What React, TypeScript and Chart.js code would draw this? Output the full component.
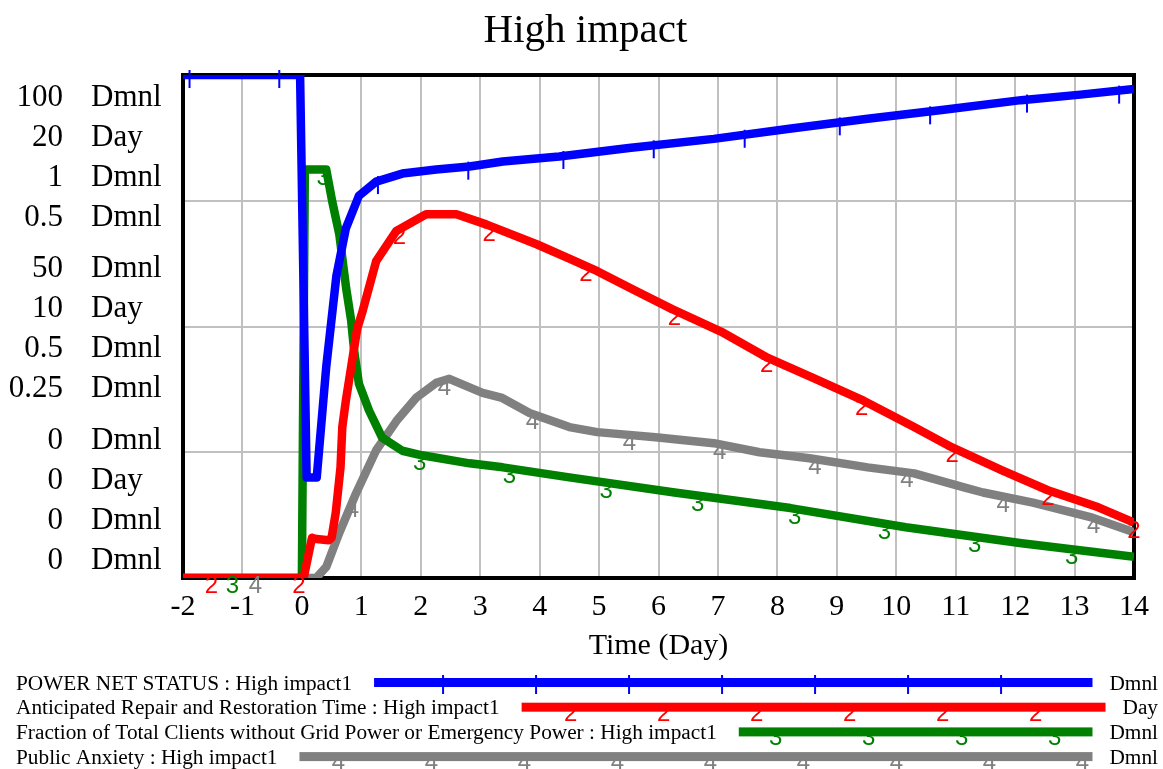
import React, { useEffect, useRef } from "react";
import { Chart, registerables } from "chart.js";
Chart.register(...registerables);

const TITLE = "High impact";
const X_TITLE = "Time (Day)";
const X_MIN = -2;
const X_MAX = 14;
const X_TICKS = ["-2", "-1", "0", "1", "2", "3", "4", "5", "6", "7", "8", "9", "10", "11", "12", "13", "14"];

const SERIES_NAMES = [
  "POWER NET STATUS : High impact1",
  "Anticipated Repair and Restoration Time : High impact1",
  "Fraction of Total Clients without Grid Power or Emergency Power : High impact1",
  "Public Anxiety : High impact1",
];
const UNITS = ["Dmnl", "Day", "Dmnl", "Dmnl"];
const COLORS = ["#0000ff", "#ff0000", "#008000", "#808080"];
const MARK_GLYPHS = ["|", "2", "3", "4"];
const Y_MAX = [100, 20, 1, 0.5];
const Y_LABEL_FRACTIONS = [1, 0.5, 0];
const Y_TICK_LABELS_POWER = ["100", "50", "0"];
const Y_TICK_LABELS_REPAIR = ["20", "10", "0"];
const Y_TICK_LABELS_FRACTION = ["1", "0.5", "0"];
const Y_TICK_LABELS_ANXIETY = ["0.5", "0.25", "0"];

const POWER_T = [-2, -0.03, 0.08, 0.25, 0.41, 0.58, 0.74, 0.96, 1.25, 1.69, 2.26, 2.82, 3.38, 4.33, 5.5, 6.93, 8.2, 9.52, 10.8, 12.1, 13.1, 14];
const POWER_V = [100, 100, 20, 20, 42, 60, 69.5, 76, 78.8, 80.4, 81.2, 81.8, 82.8, 83.8, 85.5, 87.3, 89.3, 91.3, 93.1, 95, 96.1, 97.2];

const REPAIR_T = [-2, 0.03, 0.17, 0.25, 0.45, 0.5, 0.57, 0.65, 0.68, 0.74, 0.83, 0.93, 1.02, 1.25, 1.59, 2.09, 2.6, 3.1, 3.95, 4.5, 4.97, 5.63, 6.22, 7.05, 7.84, 8.6, 9.45, 10.3, 10.94, 11.78, 12.55, 13.4, 14];
const REPAIR_V = [0, 0, 1.6, 1.55, 1.5, 1.6, 2.6, 4.4, 6.0, 7.05, 8.4, 9.9, 10.6, 12.6, 13.8, 14.46, 14.46, 14.06, 13.27, 12.7, 12.2, 11.4, 10.7, 9.8, 8.75, 7.96, 7.05, 6.0, 5.19, 4.28, 3.49, 2.81, 2.2];

const FRACTION_T = [-2, 0.0, 0.05, 0.41, 0.51, 0.63, 0.745, 0.83, 0.88, 0.96, 1.13, 1.35, 1.69, 2.02, 2.82, 3.38, 4.5, 6.27, 8.22, 10.16, 12.11, 14];
const FRACTION_V = [0, 0, 0.812, 0.812, 0.749, 0.683, 0.576, 0.511, 0.451, 0.386, 0.333, 0.279, 0.253, 0.244, 0.228, 0.22, 0.2, 0.17, 0.139, 0.101, 0.069, 0.042];

const ANXIETY_T = [-2, 0.24, 0.41, 0.63, 0.91, 1.25, 1.59, 1.92, 2.26, 2.48, 3.04, 3.37, 3.83, 4.5, 4.97, 5.95, 6.93, 7.7, 8.54, 9.52, 10.3, 11.14, 11.46, 12.3, 13.3, 14];
const ANXIETY_V = [0, 0, 0.011, 0.045, 0.084, 0.127, 0.156, 0.179, 0.194, 0.198, 0.184, 0.179, 0.164, 0.15, 0.145, 0.14, 0.134, 0.125, 0.119, 0.11, 0.104, 0.09, 0.085, 0.075, 0.06, 0.0455];

const POWER_MARKS = [-1.89, -0.38, 1.28, 2.8, 4.4, 5.92, 7.45, 9.05, 10.57, 12.2, 13.75];
const REPAIR_MARKS = [-1.52, -0.05, 1.64, 3.15, 4.78, 6.27, 7.82, 9.42, 10.94, 12.55, 14.0];
const FRACTION_MARKS = [-1.17, 0.36, 1.98, 3.49, 5.12, 6.66, 8.29, 9.8, 11.32, 12.95];
const ANXIETY_MARKS = [-0.78, 0.85, 2.4, 3.88, 5.51, 7.03, 8.63, 10.18, 11.8, 13.32];

const SERIF = "'Liberation Serif', 'Times New Roman', serif";
const SANS = "'Liberation Sans', Arial, sans-serif";

const toPts = (t: number[], v: number[]) => t.map((x, i) => ({ x, y: v[i] }));
const AXIS_IDS = ["yP", "yR", "yF", "yA"];
const MARKS = [POWER_MARKS, REPAIR_MARKS, FRACTION_MARKS, ANXIETY_MARKS];
const Y_LABELS = [Y_TICK_LABELS_POWER, Y_TICK_LABELS_REPAIR, Y_TICK_LABELS_FRACTION, Y_TICK_LABELS_ANXIETY];

function interp(pts: { x: number; y: number }[], t: number) {
  if (t <= pts[0].x) return pts[0].y;
  for (let i = 1; i < pts.length; i++) {
    if (t <= pts[i].x) {
      const a = pts[i - 1], b = pts[i];
      const f = (t - a.x) / (b.x - a.x || 1);
      return a.y + (b.y - a.y) * f;
    }
  }
  return pts[pts.length - 1].y;
}

const decor = {
  id: "decor",
  beforeDatasetsDraw(chart: any) {
    const { ctx, chartArea: a } = chart;
    ctx.save();
    ctx.strokeStyle = "#000";
    ctx.lineWidth = 4;
    ctx.strokeRect(a.left, a.top, a.right - a.left, a.bottom - a.top);
    ctx.restore();
  },
  afterDatasetsDraw(chart: any) {
    const { ctx } = chart;
    const xs = chart.scales.x;
    ctx.save();
    chart.data.datasets.forEach((ds: any, i: number) => {
      const ys = chart.scales[AXIS_IDS[i]];
      ctx.fillStyle = COLORS[i];
      ctx.strokeStyle = COLORS[i];
      MARKS[i].forEach((t) => {
        const px = xs.getPixelForValue(t);
        const py = ys.getPixelForValue(interp(ds.data, t));
        if (i === 0) {
          ctx.lineWidth = 2;
          ctx.beginPath();
          ctx.moveTo(px, py - 5);
          ctx.lineTo(px, py + 13);
          ctx.stroke();
        } else {
          ctx.font = `24px ${SANS}`;
          ctx.textAlign = "center";
          ctx.textBaseline = "alphabetic";
          ctx.fillText(MARK_GLYPHS[i], px, py + 15);
        }
      });
    });
    ctx.restore();
  },
  afterDraw(chart: any) {
    const { ctx, chartArea: a, width } = chart;
    ctx.save();
    ctx.fillStyle = "#000";
    // title
    ctx.font = `41px ${SERIF}`;
    ctx.textAlign = "center";
    ctx.textBaseline = "alphabetic";
    ctx.fillText(TITLE, width / 2 + 4, 42);
    // x title
    ctx.font = `30px ${SERIF}`;
    ctx.fillText(X_TITLE, (a.left + a.right) / 2, 654);
    // y labels
    ctx.font = `31px ${SERIF}`;
    const yP = chart.scales.yP;
    Y_LABEL_FRACTIONS.forEach((f, g) => {
      const gy = yP.getPixelForValue(f * Y_MAX[0]);
      const c = Math.min(Math.max(gy, a.top + 81), a.bottom - 79);
      for (let i = 0; i < 4; i++) {
        const base = c + (i - 1.5) * 40 + 10;
        ctx.textAlign = "right";
        ctx.fillText(Y_LABELS[i][g], a.left - 120, base);
        ctx.textAlign = "left";
        ctx.fillText(UNITS[i], a.left - 92, base);
      }
    });
    // legend
    const legFont = `21.3px ${SERIF}`;
    const offsets = [69, 49, 37, 39];
    const rows: any[] = [];
    for (let i = 0; i < 4; i++) {
      const cy = 682.5 + i * 24.7;
      ctx.font = legFont;
      ctx.fillStyle = "#000";
      ctx.textAlign = "left";
      ctx.fillText(SERIES_NAMES[i], 16, cy + 7);
      const tw = ctx.measureText(SERIES_NAMES[i]).width;
      ctx.textAlign = "right";
      ctx.fillText(UNITS[i], 1158, cy + 7);
      const uw = ctx.measureText(UNITS[i]).width;
      const x0 = 16 + tw + 22;
      const x1 = 1158 - uw - 17;
      ctx.fillStyle = COLORS[i];
      ctx.fillRect(x0, cy - 4.5, x1 - x0, 9);
      rows.push({ cy, x0, x1 });
    }
    for (let i = 0; i < 4; i++) {
      const { cy, x0, x1 } = rows[i];
      ctx.fillStyle = COLORS[i];
      ctx.strokeStyle = COLORS[i];
      for (let mx = x0 + offsets[i]; mx < x1 - 10; mx += 93) {
        if (i === 0) {
          ctx.lineWidth = 2;
          ctx.beginPath();
          ctx.moveTo(mx, cy - 7.5);
          ctx.lineTo(mx, cy + 11.5);
          ctx.stroke();
        } else {
          ctx.font = `24px ${SANS}`;
          ctx.textAlign = "center";
          ctx.fillText(MARK_GLYPHS[i], mx, cy + 13.5);
        }
      }
    }
    ctx.restore();
  },
};

export default function App() {
  const ref = useRef<HTMLCanvasElement | null>(null);
  useEffect(() => {
    if (!ref.current) return;
    const seriesData = [
      toPts(POWER_T, POWER_V),
      toPts(REPAIR_T, REPAIR_V),
      toPts(FRACTION_T, FRACTION_V),
      toPts(ANXIETY_T, ANXIETY_V),
    ];
    const hiddenY = (max: number) => ({ type: "linear", min: 0, max, display: false });
    const chart = new Chart(ref.current, {
      type: "line",
      data: {
        datasets: seriesData.map((d, i) => ({
          label: SERIES_NAMES[i],
          data: d,
          yAxisID: AXIS_IDS[i],
          borderColor: COLORS[i],
          backgroundColor: COLORS[i],
          borderWidth: 8.5,
          pointRadius: 0,
          tension: 0,
          borderJoinStyle: "round",
          borderCapStyle: "butt",
          fill: false,
        })),
      },
      options: {
        responsive: false,
        maintainAspectRatio: false,
        animation: false,
        layout: { padding: { left: 183, right: 29, top: 75, bottom: 131 } },
        plugins: { legend: { display: false }, tooltip: { enabled: false }, title: { display: false } },
        scales: {
          x: {
            type: "linear",
            min: X_MIN,
            max: X_MAX,
            afterFit: (s: any) => { s.height = 60; },
            afterBuildTicks: (s: any) => {
              s.ticks = X_TICKS.map((_, i) => ({ value: X_MIN + i }));
            },
            ticks: {
              autoSkip: false,
              maxRotation: 0,
              padding: 11,
              color: "#000",
              font: { family: SERIF, size: 30 },
              callback: (_v: any, i: number) => X_TICKS[i],
            },
            grid: { color: "#c0c0c0", lineWidth: 2, drawTicks: false },
            border: { display: false },
          },
          yP: {
            type: "linear",
            position: "left",
            min: 0,
            max: Y_MAX[0],
            afterFit: (s: any) => { s.width = 0; },
            ticks: { display: false, stepSize: Y_MAX[0] / 4 },
            grid: { color: "#c0c0c0", lineWidth: 2, drawTicks: false },
            border: { display: false },
          },
          yR: hiddenY(Y_MAX[1]),
          yF: hiddenY(Y_MAX[2]),
          yA: hiddenY(Y_MAX[3]),
        },
      } as any,
      plugins: [decor],
    });
    return () => chart.destroy();
  }, []);
  return (
    <div style={{ position: "fixed", left: 0, top: 0, width: 1163, height: 769, background: "#fff" }}>
      <canvas ref={ref} width={1163} height={769} style={{ display: "block", width: 1163, height: 769 }} />
    </div>
  );
}
